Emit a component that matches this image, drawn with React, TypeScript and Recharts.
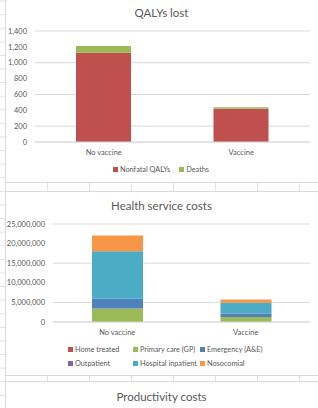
import { BarChart, Bar, XAxis, YAxis, CartesianGrid, Legend } from 'recharts'

const categories = ['No vaccine', 'Vaccine']

// QALYs lost
const nonfatalQalys = [1125, 420]
const deathQalys = [85, 18]
const qalyTicks = [0, 200, 400, 600, 800, 1000, 1200, 1400]

// Health service costs
const homeTreated = [20000, 8000]
const primaryCare = [3400000, 1250000]
const emergency = [2450000, 930000]
const outpatient = [90000, 35000]
const hospitalInpatient = [12100000, 2700000]
const nosocomial = [4000000, 800000]
const costTicks = [0, 5000000, 10000000, 15000000, 20000000, 25000000]

const qalyData = categories.map((name, i) => ({
  name,
  nonfatal: nonfatalQalys[i],
  deaths: deathQalys[i],
}))

const costData = categories.map((name, i) => ({
  name,
  home: homeTreated[i],
  primary: primaryCare[i],
  emergency: emergency[i],
  outpatient: outpatient[i],
  inpatient: hospitalInpatient[i],
  nosocomial: nosocomial[i],
}))

const qalyOrder = ['Nonfatal QALYs', 'Deaths']
const costOrder = ['Home treated', 'Primary care (GP)', 'Emergency (A&E)', 'Outpatient', 'Hospital inpatient', 'Nosocomial']

const FONT = 'Lato, "Noto Sans", sans-serif'
const TEXT = '#595959'
const GRID = '#d9d9d9'
const tick = { fontSize: 7.5, fill: TEXT, fontFamily: FONT }
const fmt = (v: number) => v.toLocaleString('en-US')

// keep legend items in series order
const ordered = (payload: any[] = [], order: string[]) =>
  order.map((n) => payload.find((p) => p.value === n)).filter(Boolean)

function Swatch({ color }: { color: string }) {
  return <span style={{ display: 'inline-block', flexShrink: 0, width: 5, height: 5, background: color, marginRight: 2 }} />
}

function QalyLegend(props: any) {
  const items = ordered(props.payload, qalyOrder)
  return (
    <div style={{ height: 14, display: 'flex', justifyContent: 'center', alignItems: 'center', paddingLeft: 16, fontFamily: FONT, fontSize: 7.3, color: TEXT }}>
      {items.map((it: any) => (
        <span key={it.value} style={{ display: 'flex', alignItems: 'center', marginRight: 9 }}>
          <Swatch color={it.color} />
          {it.value}
        </span>
      ))}
    </div>
  )
}

function CostLegend(props: any) {
  const items = ordered(props.payload, costOrder)
  return (
    <div style={{ height: 29, display: 'grid', gridTemplateColumns: '65px 67px 70px', gridAutoRows: '14.5px', paddingLeft: 63, fontFamily: FONT, fontSize: 7.3, color: TEXT }}>
      {items.map((it: any) => (
        <span key={it.value} style={{ display: 'flex', alignItems: 'center', whiteSpace: 'nowrap' }}>
          <Swatch color={it.color} />
          {it.value}
        </span>
      ))}
    </div>
  )
}

const box = (top: number, height: number): React.CSSProperties => ({
  position: 'absolute',
  left: 5,
  top,
  width: 330,
  height,
  background: '#fff',
  border: '1px solid ' + GRID,
  boxSizing: 'border-box',
})

const title = (top: number): React.CSSProperties => ({
  position: 'absolute',
  left: 5,
  width: 313,
  top,
  textAlign: 'center',
  fontFamily: FONT,
  fontSize: 11.5,
  lineHeight: '14px',
  color: TEXT,
})

export default function App() {
  return (
    <div
      style={{
        position: 'absolute',
        left: 0,
        top: 0,
        width: 318,
        height: 408,
        overflow: 'hidden',
        background: '#fff',
        backgroundImage:
          'linear-gradient(to right, #e1e1e1 1px, transparent 1px), linear-gradient(to bottom, #e1e1e1 1px, transparent 1px)',
        backgroundSize: '42px 13.6px',
        backgroundPosition: '5px 14.2px',
      }}
    >
      <div style={box(-1, 184)} />
      <div style={box(191, 185)} />
      <div style={box(381, 40)} />

      <div style={title(6)}>QALYs lost</div>
      <div style={title(199)}>Health service costs</div>
      <div style={title(390)}>Productivity costs</div>

      <div style={{ position: 'absolute', left: 5, top: 0 }}>
        <BarChart width={313} height={182} data={qalyData} margin={{ top: 31, right: 8, left: 0, bottom: 6 }} barSize={55}>
          <CartesianGrid vertical={false} stroke={GRID} />
          <XAxis dataKey="name" height={20} tick={tick} tickLine={false} axisLine={{ stroke: GRID }} />
          <YAxis width={30} domain={[0, 1400]} ticks={qalyTicks} tickFormatter={fmt} tick={tick} tickLine={false} axisLine={false} />
          <Legend verticalAlign="bottom" height={14} content={QalyLegend} />
          <Bar dataKey="nonfatal" name="Nonfatal QALYs" stackId="a" fill="#C0504D" isAnimationActive={false} />
          <Bar dataKey="deaths" name="Deaths" stackId="a" fill="#9BBB59" isAnimationActive={false} />
        </BarChart>
      </div>

      <div style={{ position: 'absolute', left: 5, top: 191 }}>
        <BarChart width={313} height={185} data={costData} margin={{ top: 33, right: 8, left: 0, bottom: 5 }} barSize={51}>
          <CartesianGrid vertical={false} stroke={GRID} />
          <XAxis dataKey="name" height={20} tick={tick} tickLine={false} axisLine={{ stroke: GRID }} />
          <YAxis width={48} domain={[0, 25000000]} ticks={costTicks} tickFormatter={fmt} tick={tick} tickLine={false} axisLine={false} />
          <Legend verticalAlign="bottom" height={29} content={CostLegend} />
          <Bar dataKey="home" name="Home treated" stackId="a" fill="#C0504D" isAnimationActive={false} />
          <Bar dataKey="primary" name="Primary care (GP)" stackId="a" fill="#9BBB59" isAnimationActive={false} />
          <Bar dataKey="emergency" name="Emergency (A&E)" stackId="a" fill="#4F81BD" isAnimationActive={false} />
          <Bar dataKey="outpatient" name="Outpatient" stackId="a" fill="#8064A2" isAnimationActive={false} />
          <Bar dataKey="inpatient" name="Hospital inpatient" stackId="a" fill="#4BACC6" isAnimationActive={false} />
          <Bar dataKey="nosocomial" name="Nosocomial" stackId="a" fill="#F79646" isAnimationActive={false} />
        </BarChart>
      </div>
    </div>
  )
}
